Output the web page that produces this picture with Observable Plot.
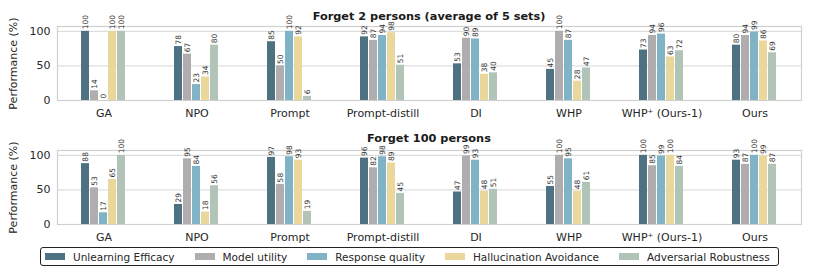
<!DOCTYPE html>
<html>
<head>
<meta charset="utf-8">
<script src="https://cdn.jsdelivr.net/npm/d3@7"></script>
<script src="https://cdn.jsdelivr.net/npm/@observablehq/plot@0.6"></script>
<style>
  html, body { margin: 0; padding: 0; background: #fff; }
  #root { position: relative; width: 814px; height: 271px; font-family: "DejaVu Sans", sans-serif; color: #262626; }
  .panel { position: absolute; left: 0; }
  .title { position: absolute; left: 56px; width: 746px; text-align: center; font-weight: bold; font-size: 11.3px; line-height: 13px; color: #1a1a1a; }
  .legend { position: absolute; left: 40px; top: 247px; width: 733px; height: 17px; border: 1px solid #222; border-radius: 3px;
            display: flex; align-items: center; padding-left: 4px; box-sizing: content-box; font-size: 10.5px; }
  .item { display: flex; align-items: center; margin-right: 20px; white-space: nowrap; }
  .sw { width: 20px; height: 7px; margin-right: 8px; }
</style>
</head>
<body>
<div id="root"></div>
<script>
const categories = ["GA", "NPO", "Prompt", "Prompt-distill", "DI", "WHP", "WHP\u207A (Ours-1)", "Ours"];
const metrics = ["Unlearning Efficacy", "Model utility", "Response quality", "Hallucination Avoidance", "Adversarial Robustness"];
const metricColors = ["#4e7282", "#afadad", "#80b3c5", "#ead79b", "#b1c4b7"];
const yTicks = [0, 50, 100];

// Forget 2 persons (average of 5 sets)
const forget2Efficacy = [100, 78, 85, 92, 53, 45, 73, 80];
const forget2Utility  = [14, 67, 50, 87, 90, 100, 94, 94];
const forget2Response = [0, 23, 100, 94, 89, 87, 96, 99];
const forget2Halluc   = [100, 34, 92, 98, 38, 28, 63, 86];
const forget2Robust   = [100, 80, 6, 51, 40, 47, 72, 69];

// Forget 100 persons
const forget100Efficacy = [88, 29, 97, 96, 47, 55, 100, 93];
const forget100Utility  = [53, 95, 58, 82, 99, 100, 85, 87];
const forget100Response = [17, 84, 98, 98, 93, 95, 99, 100];
const forget100Halluc   = [65, 18, 93, 89, 48, 48, 100, 99];
const forget100Robust   = [100, 56, 19, 45, 51, 61, 84, 87];

function toRows(series) {
  const rows = [];
  categories.forEach((c, i) => {
    metrics.forEach((m, j) => rows.push({category: c, metric: m, value: series[j][i]}));
  });
  return rows;
}

function chart(rows) {
  return Plot.plot({
    width: 814, height: 122,
    marginTop: 26, marginBottom: 22, marginLeft: 56, marginRight: 12,
    style: {fontFamily: "DejaVu Sans", fontSize: "11px", color: "#262626", background: "transparent", overflow: "visible"},
    fx: {domain: categories, padding: 0, axis: "bottom", label: null, tickSize: 0, tickPadding: 9},
    x: {domain: metrics, axis: null, paddingInner: 0.1, paddingOuter: 2.21},
    y: {domain: [0, 107], ticks: yTicks, tickSize: 0, tickPadding: 7, label: "Performance (%)",
        labelAnchor: "center", labelOffset: 48, labelArrow: "none"},
    color: {domain: metrics, range: metricColors},
    marks: [
      Plot.gridY(yTicks, {stroke: "#d6d6d6", strokeOpacity: 1}),
      Plot.frame({facet: "super", stroke: "#d0d0d0", strokeWidth: 1.2}),
      Plot.barY(rows, {fx: "category", x: "metric", y: "value", fill: "metric"}),
      Plot.text(rows, {fx: "category", x: "metric", y: "value", text: d => String(d.value),
        rotate: -90, textAnchor: "start", dy: -2, fontSize: 7.5, fill: "#333"})
    ]
  });
}

const root = document.getElementById("root");

const p1 = chart(toRows([forget2Efficacy, forget2Utility, forget2Response, forget2Halluc, forget2Robust]));
p1.classList.add("panel"); p1.style.top = "0px";
root.appendChild(p1);

const p2 = chart(toRows([forget100Efficacy, forget100Utility, forget100Response, forget100Halluc, forget100Robust]));
p2.classList.add("panel"); p2.style.top = "124px";
root.appendChild(p2);

const t1 = document.createElement("div");
t1.className = "title"; t1.style.top = "10px"; t1.textContent = "Forget 2 persons (average of 5 sets)";
root.appendChild(t1);
const t2 = document.createElement("div");
t2.className = "title"; t2.style.top = "132px"; t2.textContent = "Forget 100 persons";
root.appendChild(t2);

const legend = document.createElement("div");
legend.className = "legend";
metrics.forEach((m, i) => {
  const it = document.createElement("div"); it.className = "item";
  const sw = document.createElement("div"); sw.className = "sw"; sw.style.background = metricColors[i];
  const tx = document.createElement("span"); tx.textContent = m;
  it.appendChild(sw); it.appendChild(tx); legend.appendChild(it);
});
root.appendChild(legend);
</script>
</body>
</html>
